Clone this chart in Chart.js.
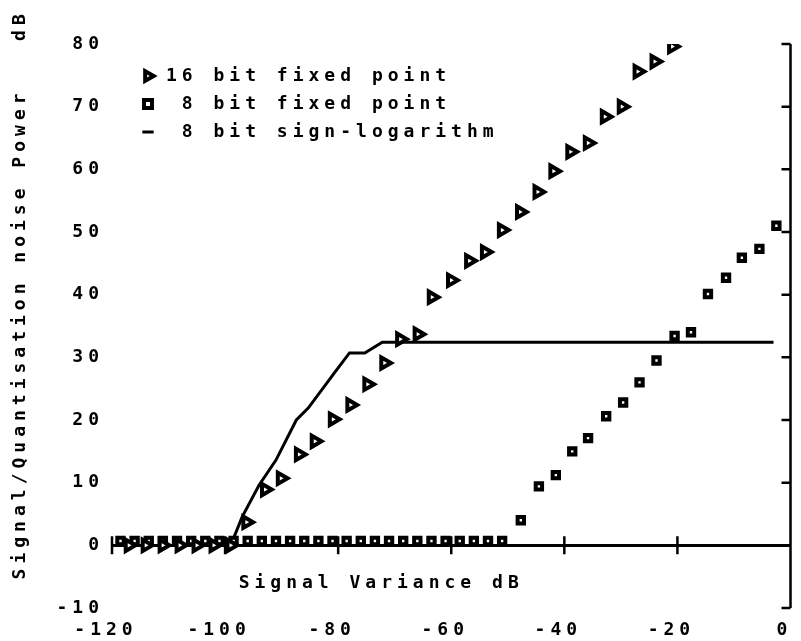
<!DOCTYPE html>
<html>
<head>
<meta charset="utf-8">
<script src="https://cdn.jsdelivr.net/npm/chart.js@4/dist/chart.umd.min.js"></script>
<style>
  html, body { margin: 0; padding: 0; background: #fff; }
</style>
</head>
<body>
<canvas id="chart" width="801" height="641"></canvas>
<script>
// 16 bit fixed point (triangles)
const fix16X = [-117, -114, -111, -108, -105, -102, -99, -96.2, -92.9, -90.1, -86.9, -84.1, -80.9, -77.8, -74.8, -71.8,
                -69.0, -65.9, -63.4, -60.0, -56.8, -54.0, -51.0, -47.8, -44.7, -41.9, -38.9, -35.8, -32.8, -29.8,
                -27.0, -24.0, -20.9];
const fix16Y = [0, 0, 0, 0, 0, 0, 0, 3.7, 8.9, 10.7, 14.5, 16.6, 20.1, 22.4, 25.7, 29.1,
                32.9, 33.7, 39.6, 42.3, 45.4, 46.8, 50.3, 53.2, 56.4, 59.7, 62.8, 64.2, 68.4, 70.0,
                75.6, 77.2, 79.6];

// 8 bit fixed point (squares)
const fix8X = [-118.5, -116, -113.5, -111, -108.5, -106, -103.5, -101, -98.5, -96, -93.5, -91, -88.5, -86,
               -83.5, -81, -78.5, -76, -73.5, -71, -68.5, -66, -63.5, -61, -58.5, -56, -53.5, -51,
               -47.7, -44.5, -41.5, -38.6, -35.8, -32.6, -29.6, -26.7, -23.7, -20.5, -17.6, -14.6,
               -11.4, -8.6, -5.5, -2.5];
const fix8Y = [0.7, 0.7, 0.7, 0.7, 0.7, 0.7, 0.7, 0.7, 0.7, 0.7, 0.7, 0.7, 0.7, 0.7,
               0.7, 0.7, 0.7, 0.7, 0.7, 0.7, 0.7, 0.7, 0.7, 0.7, 0.7, 0.7, 0.7, 0.7,
               4.0, 9.4, 11.2, 15.0, 17.1, 20.6, 22.8, 26.0, 29.5, 33.4, 34.0, 40.1,
               42.7, 45.9, 47.3, 51.0];

// 8 bit sign-logarithm (line)
const logX = [-99, -97, -94, -91, -87.4, -85.3, -80.6, -78, -75.3, -72.2, -3];
const logY = [0, 4.5, 9.6, 13.6, 20.0, 21.9, 27.6, 30.7, 30.7, 32.4, 32.4];

const seriesNames = ['16 bit fixed point', ' 8 bit fixed point', ' 8 bit sign-logarithm'];
const xTitle = 'Signal Variance dB';
const yTitle = '    Signal/Quantisation noise Power   dB';

const toPoints = (xs, ys) => xs.map((x, i) => ({ x: x, y: ys[i] }));

const SPACING = '5px';

// plotter look: wide lettering, right-hand axis, ticks across the zero line
const plotter = {
    id: 'plotter',
    beforeUpdate(chart) { chart.ctx.letterSpacing = SPACING; },
    beforeDraw(chart) { chart.ctx.letterSpacing = SPACING; },
    afterLayout(chart) {
        const a = chart.chartArea;
        const lg = chart.legend;
        lg.left = a.left + 17;
        lg.top = a.top + 13;
        lg.right = a.right;
        lg.bottom = a.bottom;
    },
    beforeDatasetsDraw(chart) {
        const { ctx, chartArea: a, scales: { x, y } } = chart;
        const y0 = y.getPixelForValue(0);
        ctx.save();
        ctx.strokeStyle = '#000';
        ctx.lineWidth = 2.5;
        ctx.beginPath();
        ctx.moveTo(a.right, a.top);
        ctx.lineTo(a.right, a.bottom);
        y.ticks.forEach(t => {
            const py = y.getPixelForValue(t.value);
            ctx.moveTo(a.right - 9, py);
            ctx.lineTo(a.right, py);
        });
        x.ticks.forEach(t => {
            const px = x.getPixelForValue(t.value);
            ctx.moveTo(px, y0 - 9);
            ctx.lineTo(px, y0 + 9);
        });
        ctx.stroke();
        ctx.restore();
    },
    afterDraw(chart) {
        const { ctx, scales: { x, y } } = chart;
        ctx.save();
        ctx.font = 'bold 18px "DejaVu Sans Mono"';
        ctx.fillStyle = '#000';
        ctx.textAlign = 'left';
        ctx.textBaseline = 'middle';
        ctx.fillText(xTitle, x.getPixelForValue(-97.6), y.getPixelForValue(-6.1));
        ctx.restore();
    }
};

Chart.defaults.font.family = '"DejaVu Sans Mono", monospace';
Chart.defaults.font.size = 18;
Chart.defaults.font.weight = 'bold';
Chart.defaults.color = '#000';

new Chart(document.getElementById('chart'), {
    type: 'scatter',
    data: {
        datasets: [
            {
                label: seriesNames[0],
                data: toPoints(fix16X, fix16Y),
                pointStyle: 'triangle',
                pointRotation: 90,
                pointRadius: 6.5,
                pointBorderWidth: 4,
                pointBackgroundColor: '#fff',
                pointBorderColor: '#000',
                clip: 0
            },
            {
                label: seriesNames[1],
                data: toPoints(fix8X, fix8Y),
                pointStyle: 'rect',
                pointRadius: 4.5,
                pointBorderWidth: 4,
                pointBackgroundColor: '#fff',
                pointBorderColor: '#000',
                clip: 0
            },
            {
                label: seriesNames[2],
                data: toPoints(logX, logY),
                showLine: true,
                borderColor: '#000',
                borderWidth: 3,
                tension: 0,
                pointStyle: 'line',
                pointRadius: 0,
                pointBorderWidth: 3,
                pointBorderColor: '#000',
                clip: 0
            }
        ]
    },
    options: {
        responsive: false,
        animation: false,
        devicePixelRatio: 1,
        events: [],
        layout: { padding: { top: 44, right: 4, left: 0, bottom: 0 } },
        scales: {
            x: {
                type: 'linear',
                min: -120,
                max: 0,
                grid: { display: false },
                border: { display: false },
                ticks: { stepSize: 20, padding: 4, labelOffset: -6, maxRotation: 0 },
                afterFit(s) { s.height = 33; s.paddingLeft = 0; s.paddingRight = 0; }
            },
            y: {
                type: 'linear',
                min: -10,
                max: 80,
                border: { display: false },
                grid: {
                    drawTicks: false,
                    color: c => (c.tick && c.tick.value === 0) ? '#000' : 'rgba(0,0,0,0)',
                    lineWidth: 3
                },
                ticks: { stepSize: 10, padding: 8 },
                title: { display: true, text: yTitle, padding: { top: 10, bottom: 0 } },
                afterFit(s) { s.width = 112; s.paddingTop = 0; s.paddingBottom = 0; }
            }
        },
        plugins: {
            legend: {
                position: 'chartArea',
                align: 'start',
                labels: {
                    usePointStyle: true,
                    boxHeight: 8,
                    padding: 10,
                    color: '#000'
                }
            },
            tooltip: { enabled: false }
        }
    },
    plugins: [plotter]
});
</script>
</body>
</html>
